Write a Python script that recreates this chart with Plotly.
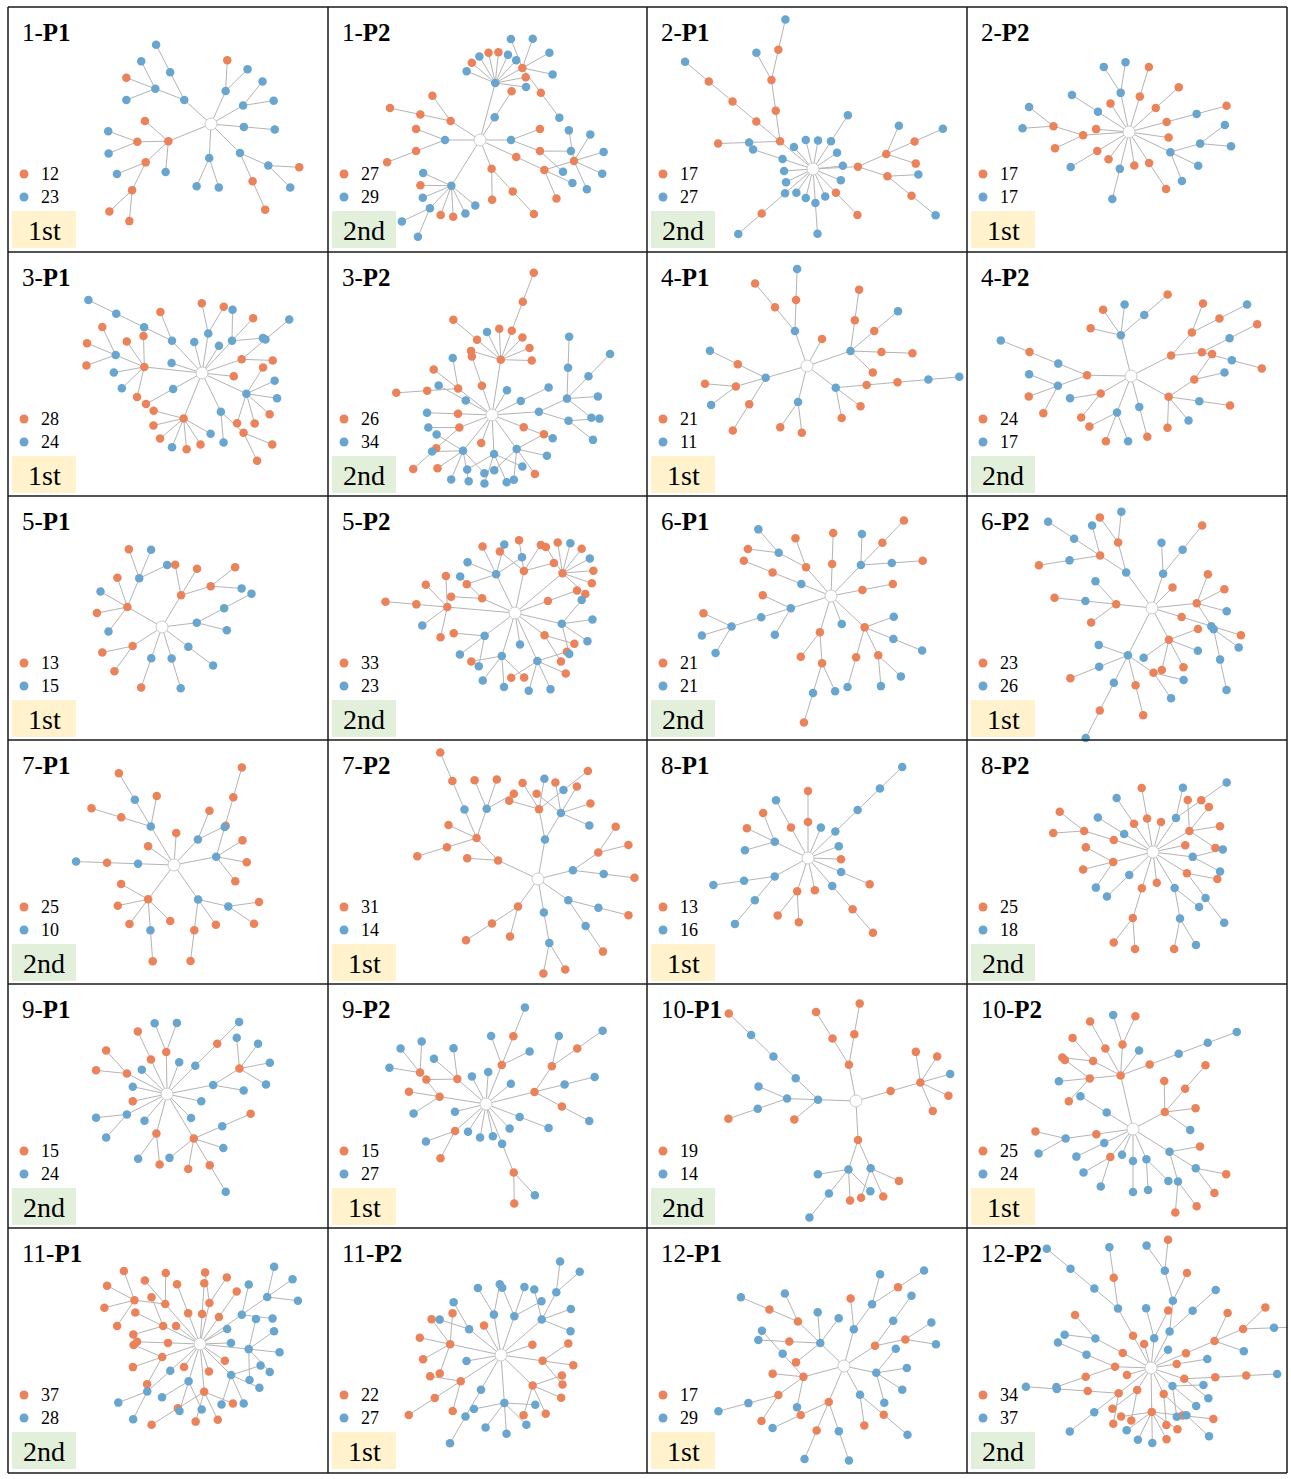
import math
import plotly.graph_objects as go

# ---------------- data ----------------
PANEL_NAMES = ["1-P1", "1-P2", "2-P1", "2-P2",
               "3-P1", "3-P2", "4-P1", "4-P2",
               "5-P1", "5-P2", "6-P1", "6-P2",
               "7-P1", "7-P2", "8-P1", "8-P2",
               "9-P1", "9-P2", "10-P1", "10-P2",
               "11-P1", "11-P2", "12-P1", "12-P2"]
ORANGE_COUNTS = [12, 27, 17, 17, 28, 26, 21, 24, 13, 33, 21, 23,
                 25, 31, 13, 25, 15, 15, 19, 25, 37, 22, 17, 34]
BLUE_COUNTS = [23, 29, 27, 17, 24, 34, 11, 17, 15, 23, 21, 26,
               10, 14, 16, 18, 24, 27, 14, 24, 28, 27, 29, 37]
RANKS = ["1st", "2nd", "2nd", "1st", "1st", "2nd", "1st", "2nd",
         "1st", "2nd", "2nd", "1st", "2nd", "1st", "1st", "2nd",
         "2nd", "1st", "2nd", "1st", "2nd", "1st", "1st", "2nd"]

# tree topology: (branch angle deg, first-link length, nested node string)
# o = orange node, b = blue node, parentheses hold children
TREE_1_P1 = [(138, 36, "b(b(b) b(bob))"), (66, 36, "b(bo)"), (30, 37, "b(bb)"),
             (-5, 33, "b(b)"), (-45, 41, "b(o(o) b(bo))"), (-93, 34, "b(bb)"),
             (-158, 46, "o(o o(bb) o(b o(oo)) b)")]
TREE_1_P2 = [(75, 59, "b(b o o(o(b) b b b b) b b o o b o b)"), (147, 35, "o(o o(o))"),
             (57, 27, "b(o)"), (180, 35, "b(o o(o))"), (0, 31, "b(o(bb) o)"),
             (-25, 40, "o(o(o b o(bbbbb)))"), (-68, 31, "o(o o(o))"),
             (-122, 54, "b(b o b b(bb) o o b b)")]
TREE_2_P1 = [(140, 43, "o(o(o(o(b) b)) o(o(o(b))) b(o))"), (131, 29, "b"), (104, 30, "b"),
             (80, 29, "b"), (57, 33, "b(b)"), (34, 29, "b"), (6, 30, "b"),
             (3, 45, "o(o(o(b) b) o(o o(b) b))"), (-22, 30, "b"), (-46, 33, "o(o)"),
             (-66, 30, "b"), (-86, 34, "b(b)"), (-104, 30, "b"), (-125, 29, "b"),
             (-139, 37, "b(o(b))"), (-154, 30, "b"), (-176, 29, "b"), (162, 32, "b(b)")]
TREE_2_P2 = [(102, 40, "b(bb)"), (73, 37, "o(o)"), (123, 34, "o"), (147, 37, "b(b)"),
             (42, 36, "o(o)"), (15, 39, "o(b(o))"), (175, 33, "o"), (184, 46, "o(o(bb) o)"),
             (-8, 40, "o"), (-26, 46, "b(b b b(bb))"), (-149, 37, "o(b)"), (-127, 34, "o"),
             (-104, 38, "b(b)"), (-81, 34, "o"), (-57, 37, "o(o)")]
TREE_3_P1 = [(133, 44, "b(o b(b(b)))"), (104, 32, "b"), (81, 40, "b(oo)"), (58, 32, "b"),
             (47, 44, "b(b o b)"), (19, 42, "o(o b(b))"), (-6, 32, "o"),
             (-25, 49, "b(o o o b b o)"), (-64, 43, "b(b o(oo))"),
             (-112, 49, "o(o o o b o o b)"), (-151, 33, "b(o)"), (162, 32, "b"),
             (174, 58, "o(o o b(ooo) b b o)")]
TREE_3_P2 = [(81, 56, "o(o o o o(o(o)) o b o(o) o)"), (109, 31, "o(o)"), (142, 43, "o(b o o(o))"),
             (151, 30, "b(b)"), (59, 29, "b"), (26, 32, "b(b)"),
             (4, 47, "b(b(bb) b(b b b(b) b(b)))"), (-21, 34, "o(b)"), (178, 34, "o(b)"),
             (-159, 35, "o(b o(o))"), (-111, 30, "o"), (-129, 46, "b(b b o b b b)"),
             (-87, 39, "b(b b b b)"), (-54, 42, "b(b b o b o)")]
TREE_4_P1 = [(109, 37, "b(o(b) o(o))"), (61, 31, "o"), (19, 46, "b(o o(o) o(b) o(o))"),
             (-37, 36, "b(o o o(o(b(b))))"), (-104, 37, "b(oo)"),
             (-164, 43, "b(o(b) o(ob) o(o))")]
TREE_4_P2 = [(104, 42, "b(b(o) b o o)"), (27, 45, "o(o(b(o) b(o)) o(o(b) o))"),
             (179, 44, "o(b(o(b)) b(b o o))"), (-150, 35, "o(b o)"), (-111, 39, "b(o o b)"),
             (-75, 32, "b(o)"), (-29, 43, "o(o b b(o) o(b o))")]
TREE_5_P1 = [(150, 40, "o(b(b b o) o b o b)"), (59, 37, "o(o(b o) o o)"), (7, 35, "b(b b(b))"),
             (-37, 33, "b(b)"), (-73, 33, "b(b)"), (-109, 33, "b(o)"), (-147, 35, "o(oo)")]
TREE_5_P2 = [(116, 43, "b(b b o b o)"), (78, 43, "o(oooo)"), (40, 62, "o(o o o b o b o o)"),
             (20, 35, "o(o)"), (156, 36, "o(b o)"), (175, 68, "o(o o o(o) b o)"),
             (-13, 48, "b(bbbb)"), (-37, 37, "o(oo)"), (-81, 32, "b"), (-143, 38, "b(o b b)"),
             (-107, 45, "b(o b b o)"), (-65, 53, "b(o b b o o)")]
TREE_6_P1 = [(158, 32, "b(o(o))"), (131, 38, "o(o b(b o))"), (88, 32, "o(o)"),
             (46, 43, "b(b(o) o(o) b)"), (11, 32, "o(o)"), (-163, 42, "b(o b(b(o b b)) b)"),
             (-69, 30, "b"), (-107, 38, "o(o o(b(o) b))"), (-43, 46, "o(o(b) o(bb) b(b) b)")]
TREE_6_P2 = [(126, 44, "b(o(b o) o(b b(b) b(o)))"), (72, 36, "b(b(o) b)"), (45, 29, "o"),
             (174, 36, "o(b b(o) o)"), (6, 45, "o(b(b(b) b) b o o)"), (-17, 31, "o(b(o))"),
             (-62, 36, "o(b o o b o)"), (-117, 53, "b(b b(o) b(o(b)) o(o) o(bb))")]
TREE_7_P1 = [(121, 45, "b(o b(o) o(o))"), (86, 32, "o"), (144, 32, "o"), (47, 35, "b(oo)"),
             (11, 43, "b(o o o b(o(o)))"), (178, 36, "b(o(b))"), (-55, 42, "b(o(o) o b(oo))"),
             (-127, 43, "o(o o o b(o) o)")]
TREE_7_P2 = [(155, 44, "o(o(b(ooo) b(o(o)) o o(o)) o)"),
             (80, 40, "b(b(b o o o o) o(b(o) b o o))"), (14, 36, "b(b(o) o(oo))"),
             (-35, 37, "b(b(o) b(o))"), (-80, 34, "b(b(oo))"), (-126, 34, "o(o(o) o)")]
TREE_8_P1 = [(44, 38, "b(b(b(b)))"), (67, 33, "b"), (90, 36, "o(o)"), (119, 35, "o(b)"),
             (154, 37, "b(o o b)"), (21, 33, "b"), (-2, 33, "o"), (-23, 36, "b(o)"),
             (-49, 37, "b(o(o))"), (-78, 33, "o"), (-108, 35, "o(oo)"), (-151, 38, "b(b(b) b(b))")]
TREE_8_P2 = [(163, 41, "o(o(oo))"), (148, 34, "b(b)"), (124, 34, "o(b)"), (100, 34, "o(o)"),
             (75, 31, "o"), (56, 41, "b(o(b) b)"), (30, 42, "o(oooo)"), (12, 33, "o"),
             (-7, 40, "b(bb)"), (-32, 40, "o(b(b) o)"), (-59, 42, "b(b(o b) b)"), (-83, 31, "o"),
             (-107, 38, "o(o(oo))"), (-136, 33, "b(b)"), (-166, 41, "o(o o b)")]
TREE_9_P1 = [(91, 42, "o(bb)"), (115, 38, "o(o)"), (153, 45, "o(oo)"), (136, 35, "b"),
             (69, 34, "b"), (45, 40, "b(o(b))"), (11, 47, "b(b o(bbbb))"), (168, 35, "b"),
             (-168, 35, "o"), (-12, 35, "b"), (-153, 45, "b(bb)"), (-130, 35, "b"),
             (-45, 34, "b"), (-105, 41, "o(b o)"), (-59, 52, "o(b o o(b) b b(o))")]
TREE_9_P2 = [(68, 42, "o(b o(b) b)"), (86, 32, "b"), (117, 31, "b"), (139, 38, "o(b b o)"),
             (171, 47, "o(o(bbb) o b)"), (39, 32, "b"), (14, 50, "o(o(b) b(b) o(o(b) b))"),
             (-166, 32, "b"), (-139, 41, "o(b o)"), (-123, 33, "b"), (-100, 34, "b"),
             (-78, 33, "b"), (-68, 43, "b(o(o b))"), (-46, 34, "b"), (-21, 36, "b(b)")]
TREE_10_P1 = [(101, 37, "o(o(o) o(o))"), (16, 36, "o(o(o o b o o))"),
              (178, 38, "b(b(b(b(o))) b(b b(o)) o)"), (-87, 39, "o(b(b b(b) o b) b(o o o))")]
TREE_10_P2 = [(103, 55, "o(o(b(b(b))) b o(o b) o(o) o(o o) o(o b o))"), (148, 31, "b(b)"),
              (28, 36, "o(b o o(o) o)"), (-172, 37, "o(b(o b))"), (-154, 32, "b(b)"),
              (-129, 36, "o(bb)"), (-113, 28, "b"), (-90, 32, "b(b)"), (-66, 33, "b(bb)"),
              (-32, 43, "b(b(oo) b(oo) o)")]
TREE_11_P1 = [(131, 53, "o(o o o(oooo))"), (154, 41, "o(ooo)"), (111, 33, "o(o)"),
              (86, 30, "o(o)"), (77, 42, "o(oo)"), (55, 33, "o(o)"), (35, 51, "b(b b(bbb) b)"),
              (29, 31, "b"), (2, 31, "b"), (-6, 49, "b(bbbbb)"), (-34, 30, "o"),
              (-45, 44, "b(bbbb)"), (-72, 29, "o"), (-85, 48, "o(o(o) o o o)"),
              (-107, 39, "b(bbb)"), (-125, 28, "o"), (-138, 40, "b(b(bb))"),
              (-161, 40, "o(ooo)"), (178, 32, "o(o)"), (143, 30, "o")]
TREE_11_P2 = [(141, 41, "b(bb)"), (100, 41, "b(bb)"), (71, 41, "b(bbb)"), (120, 34, "o"),
              (41, 54, "b(b b b(bb) b)"), (18, 33, "o"), (-8, 42, "o(ooo)"),
              (168, 52, "o(ooooo)"), (-170, 35, "b"), (-147, 48, "o(o o(o) o)"),
              (-120, 40, "b(b(b))"), (-86, 48, "b(bbbbb)"), (-44, 44, "o(oooo)")]
TREE_12_P1 = [(136, 33, "b(b b o(b o(b)) o(b) o)"), (75, 38, "b(b(o(b) b) o)"),
              (33, 37, "o(o(bb) b(b))"), (-12, 33, "b(bbbb)"), (-61, 33, "b(o o(b))"),
              (-113, 39, "o(o(b) o(b) b(b))"), (-165, 42, "o(b(b) o o(b(b) o) b)")]
TREE_12_P2 = [(119, 37, "o(b(o(b) b(b(b))))"), (106, 25, "o"), (84, 30, "b(ob)"),
              (63, 41, "b(b(b) b(o b(ob)))"), (47, 25, "b"), (23, 38, "o(o(b o(b(b) o) o))"),
              (9, 26, "o(b)"), (-18, 35, "o(b o(o(b)))"), (-40, 28, "b(b b b)"),
              (-64, 29, "o(o b(b))"), (-89, 44, "o(o b b b o o o(o))"), (-122, 26, "o(o o)"),
              (-142, 41, "o(o(b(b)) b(b) o)"), (-164, 25, "o"), (178, 36, "o(b(b) o(b))"),
              (152, 32, "o(b(ob))")]

TREES = [TREE_1_P1, TREE_1_P2, TREE_2_P1, TREE_2_P2, TREE_3_P1, TREE_3_P2,
         TREE_4_P1, TREE_4_P2, TREE_5_P1, TREE_5_P2, TREE_6_P1, TREE_6_P2,
         TREE_7_P1, TREE_7_P2, TREE_8_P1, TREE_8_P2, TREE_9_P1, TREE_9_P2,
         TREE_10_P1, TREE_10_P2, TREE_11_P1, TREE_11_P2, TREE_12_P1, TREE_12_P2]

# ---------------- layout constants ----------------
W, H = 1291, 1479
COL_X = [8, 328, 647, 967, 1287]
ROW_Y = [7, 252, 496, 740, 984, 1228, 1473]
CENTER_OFFSETS = [(203, 117), (152, 133), (166, 162), (162, 125),
                  (194, 121), (164, 163), (160, 114), (164, 124),
                  (154, 131), (187, 117), (184, 100), (185, 112),
                  (166, 125), (210, 139), (161, 118), (186, 112),
                  (159, 110), (158, 120), (209, 117), (166, 145),
                  (192, 116), (173, 127), (197, 138), (184, 140)]
ORANGE = "#EB8259"
BLUE = "#68A5CF"
EDGE = "#b4b4b4"
YELLOW_BG = "#FFF2CC"
GREEN_BG = "#E2EFDA"
FONT = "Liberation Serif, Times New Roman, serif"
CHILD_LEN = 31


def parse(spec):
    s = spec.replace(" ", "")
    pos = 0

    def node():
        nonlocal pos
        c = s[pos]
        pos += 1
        kids = []
        if pos < len(s) and s[pos] == "(":
            pos += 1
            while s[pos] != ")":
                kids.append(node())
            pos += 1
        return (c, kids)

    return node()


def place(node, x, y, ang, nodes, edges):
    c, kids = node
    nodes.append((x, y, c))
    n = len(kids)
    if n == 0:
        return
    if n == 1:
        angs = [ang]
    else:
        spread = min(42 * (n - 1), 165)
        angs = [ang - spread / 2 + spread * k / (n - 1) for k in range(n)]
    for kid, a in zip(kids, angs):
        r = math.radians(a)
        nx, ny = x + CHILD_LEN * math.cos(r), y - CHILD_LEN * math.sin(r)
        edges.append((x, y, nx, ny))
        place(kid, nx, ny, a, nodes, edges)


all_nodes, all_edges, centers = [], [], []
for i, tree in enumerate(TREES):
    r, c = divmod(i, 4)
    cx = COL_X[c] + CENTER_OFFSETS[i][0]
    cy = ROW_Y[r] + CENTER_OFFSETS[i][1]
    centers.append((cx, cy))
    for ang, length, spec in tree:
        rad = math.radians(ang)
        x, y = cx + length * math.cos(rad), cy - length * math.sin(rad)
        all_edges.append((cx, cy, x, y))
        place(parse(spec), x, y, ang, all_nodes, all_edges)

fig = go.Figure()

ex, ey = [], []
for x0, y0, x1, y1 in all_edges:
    ex += [x0, x1, None]
    ey += [y0, y1, None]
fig.add_trace(go.Scatter(x=ex, y=ey, mode="lines", line=dict(color=EDGE, width=1),
                         hoverinfo="skip", showlegend=False))

for col, colr in (("o", ORANGE), ("b", BLUE)):
    pts = [(x, y) for x, y, cc in all_nodes if cc == col]
    fig.add_trace(go.Scatter(x=[p[0] for p in pts], y=[p[1] for p in pts], mode="markers",
                             marker=dict(size=8.5, color=colr, line=dict(width=0)),
                             hoverinfo="skip", showlegend=False))

fig.add_trace(go.Scatter(x=[p[0] for p in centers], y=[p[1] for p in centers], mode="markers",
                         marker=dict(size=12, color="white", line=dict(color="#cccccc", width=1)),
                         hoverinfo="skip", showlegend=False))

# legend dots
lx, ly_o, ly_b = [], [], []
for i in range(len(PANEL_NAMES)):
    r, c = divmod(i, 4)
    lx.append(COL_X[c] + 16)
    ly_o.append(ROW_Y[r] + 167)
    ly_b.append(ROW_Y[r] + 190)
fig.add_trace(go.Scatter(x=lx, y=ly_o, mode="markers", marker=dict(size=9, color=ORANGE),
                         hoverinfo="skip", showlegend=False))
fig.add_trace(go.Scatter(x=lx, y=ly_b, mode="markers", marker=dict(size=9, color=BLUE),
                         hoverinfo="skip", showlegend=False))

shapes, annotations = [], []
for i, name in enumerate(PANEL_NAMES):
    r, c = divmod(i, 4)
    x0, y0 = COL_X[c], ROW_Y[r]
    num, p = name.split("-")
    annotations.append(dict(x=x0 + 12, y=y0 + 25, xref="x", yref="y", xanchor="left",
                            yanchor="middle", showarrow=False,
                            text=f"{num}-<b>{p}</b>",
                            font=dict(family=FONT, size=25, color="black")))
    annotations.append(dict(x=x0 + 31, y=y0 + 167, xref="x", yref="y", xanchor="left",
                            yanchor="middle", showarrow=False, text=str(ORANGE_COUNTS[i]),
                            font=dict(family=FONT, size=18, color="black")))
    annotations.append(dict(x=x0 + 31, y=y0 + 190, xref="x", yref="y", xanchor="left",
                            yanchor="middle", showarrow=False, text=str(BLUE_COUNTS[i]),
                            font=dict(family=FONT, size=18, color="black")))
    bg = YELLOW_BG if RANKS[i] == "1st" else GREEN_BG
    shapes.append(dict(type="rect", xref="x", yref="y", x0=x0 + 4, x1=x0 + 68,
                       y0=y0 + 204, y1=y0 + 241, fillcolor=bg, line=dict(width=0),
                       layer="below"))
    annotations.append(dict(x=x0 + 36, y=y0 + 223, xref="x", yref="y", xanchor="center",
                            yanchor="middle", showarrow=False, text=RANKS[i],
                            font=dict(family=FONT, size=28, color="black")))

# white strip outside the frame on the right so marks do not spill past it
shapes.append(dict(type="rect", xref="x", yref="y", x0=1288, x1=W, y0=0, y1=H,
                   fillcolor="white", line=dict(width=0), layer="above"))
for xv in COL_X:
    shapes.append(dict(type="line", xref="x", yref="y", x0=xv, x1=xv, y0=ROW_Y[0], y1=ROW_Y[-1],
                       line=dict(color="#1a1a1a", width=1.5)))
for yv in ROW_Y:
    shapes.append(dict(type="line", xref="x", yref="y", x0=COL_X[0], x1=COL_X[-1], y0=yv, y1=yv,
                       line=dict(color="#1a1a1a", width=1.5)))

fig.update_layout(width=W, height=H, margin=dict(l=0, r=0, t=0, b=0),
                  paper_bgcolor="white", plot_bgcolor="white",
                  xaxis=dict(range=[0, W], visible=False, fixedrange=True),
                  yaxis=dict(range=[H, 0], visible=False, fixedrange=True),
                  shapes=shapes, annotations=annotations, showlegend=False)

fig.write_html("out.html", config={"displayModeBar": False},
               post_script="document.body.style.margin='0';document.body.style.overflow='hidden';")
